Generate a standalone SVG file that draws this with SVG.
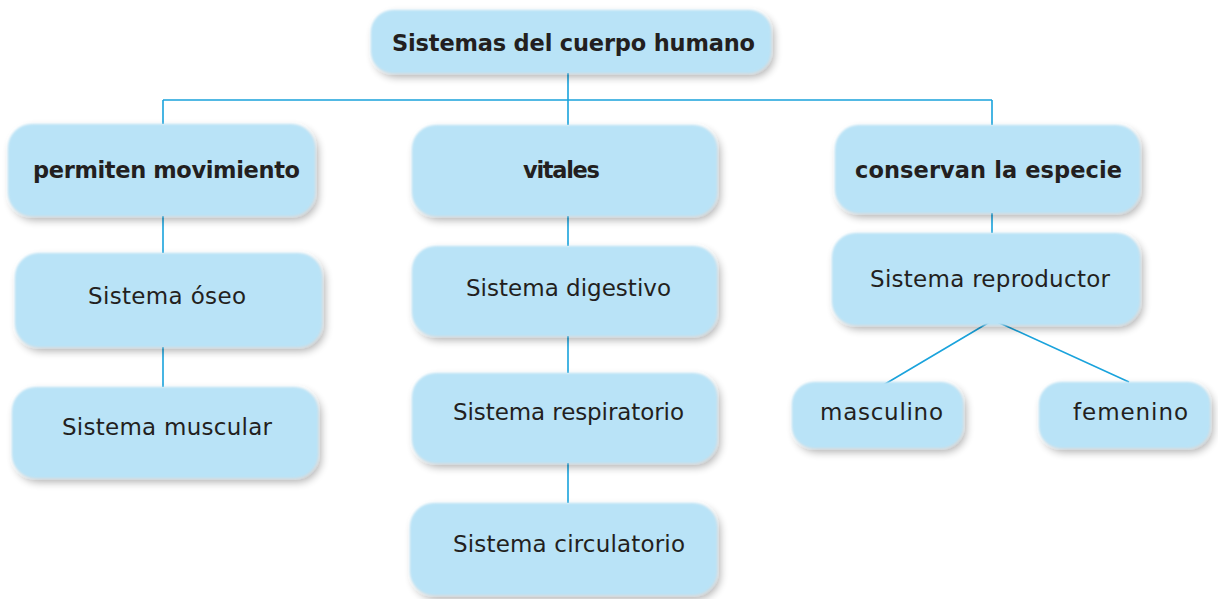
<svg xmlns="http://www.w3.org/2000/svg" width="1218" height="599" viewBox="0 0 1218 599">
<defs>
<filter id="soft" x="-10%" y="-20%" width="125%" height="150%">
<feGaussianBlur in="SourceAlpha" stdDeviation="4.5" result="b"/>
<feOffset in="b" dx="3" dy="4" result="o"/>
<feComponentTransfer in="o" result="s"><feFuncA type="linear" slope="0.32"/></feComponentTransfer>
<feGaussianBlur in="SourceGraphic" stdDeviation="1.3" result="g"/>
<feMerge><feMergeNode in="s"/><feMergeNode in="g"/></feMerge>
</filter>
</defs>
<style>
.box{fill:#b9e3f7;filter:url(#soft)}
.t{font-family:"DejaVu Sans","Liberation Sans",sans-serif;font-size:23px;fill:#231f20;text-anchor:middle}
.b{font-weight:bold;font-size:22.5px}
.c{stroke:#1aa3dc;stroke-width:1.6;fill:none}
</style>
<rect width="1218" height="599" fill="#ffffff"/>
<g id="connectors">
<path class="c" d="M568 73V100M163 100H992M163 100V124M568 100V125M992 100V125"/>
<path class="c" d="M163 216V253M163 347V387"/>
<path class="c" d="M568 216V246M568 336V373M568 463V503"/>
<path class="c" d="M992 213V233M993 320L880 387M993 320L1129 382"/>
</g>
<g id="n-root"><rect class="box" x="371" y="10" width="400" height="63" rx="22"/><text class="t b" x="573.5" y="51" textLength="363">Sistemas del cuerpo humano</text></g>
<g id="n-mov"><rect class="box" x="8" y="124" width="307" height="92" rx="24"/><text class="t b" x="166.5" y="178" textLength="267">permiten movimiento</text></g>
<g id="n-vit"><rect class="box" x="412" y="125" width="305" height="91" rx="24"/><text class="t b" x="561.5" y="178" textLength="77">vitales</text></g>
<g id="n-esp"><rect class="box" x="835" y="125" width="305" height="88" rx="24"/><text class="t b" x="988.5" y="178" textLength="267">conservan la especie</text></g>
<g id="n-oseo"><rect class="box" x="15" y="253" width="307" height="94" rx="24"/><text class="t" x="167" y="304" textLength="158">Sistema óseo</text></g>
<g id="n-musc"><rect class="box" x="12" y="387" width="306" height="91" rx="24"/><text class="t" x="167" y="435" textLength="210">Sistema muscular</text></g>
<g id="n-dig"><rect class="box" x="412" y="246" width="305" height="90" rx="24"/><text class="t" x="568.5" y="296" textLength="205">Sistema digestivo</text></g>
<g id="n-resp"><rect class="box" x="412" y="373" width="305" height="90" rx="24"/><text class="t" x="568.5" y="420" textLength="231">Sistema respiratorio</text></g>
<g id="n-circ"><rect class="box" x="410" y="503" width="307" height="92" rx="24"/><text class="t" x="569" y="552" textLength="232">Sistema circulatorio</text></g>
<g id="n-repr"><rect class="box" x="832" y="233" width="308" height="92" rx="24"/><text class="t" x="990" y="287" textLength="240">Sistema reproductor</text></g>
<g id="n-masc"><rect class="box" x="792" y="382" width="171" height="66" rx="22"/><text class="t" x="881.5" y="420" textLength="123">masculino</text></g>
<g id="n-fem"><rect class="box" x="1039" y="382" width="171" height="66" rx="22"/><text class="t" x="1130.5" y="420" textLength="115">femenino</text></g>
</svg>
